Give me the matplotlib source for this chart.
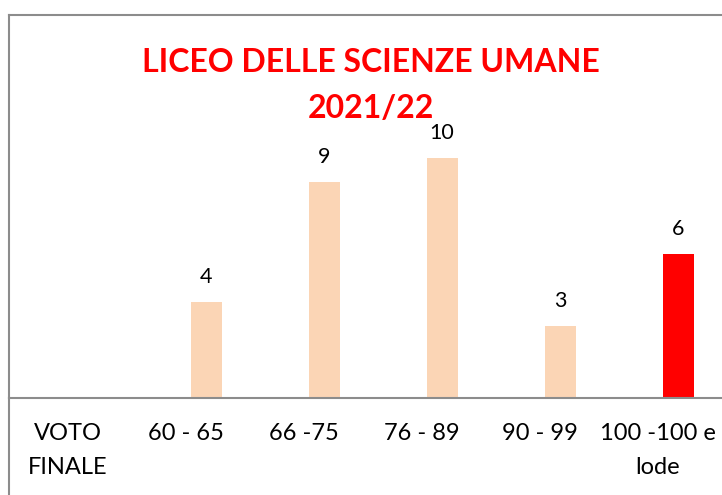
import matplotlib
matplotlib.use("Agg")
import matplotlib.pyplot as plt
from matplotlib.lines import Line2D

categories = ["VOTO\nFINALE", "60 - 65", "66 -75", "76 - 89", "90 - 99", "100 -100 e\nlode"]
values = [None, 4, 9, 10, 3, 6]
colors = [None, "#FBD5B5", "#FBD5B5", "#FBD5B5", "#FBD5B5", "#FF0000"]

plt.rcParams['font.family'] = ['Lato', 'DejaVu Sans']

W, H = 722, 495
fig = plt.figure(figsize=(W / 100, H / 100), dpi=100)
ax = fig.add_axes([9 / W, 97 / H, 713 / W, 383 / H])

offset = 20 / 118.0
width = 31 / 118.0
for i, (v, c) in enumerate(zip(values, colors)):
    if v is None:
        continue
    ax.bar(i + offset, v, width=width, color=c)
    ax.annotate(str(v), (i + offset, v), xytext=(0, 11), textcoords="offset points",
                ha="center", va="bottom", fontsize=15.5, color="#000000")

ax.set_xlim(-0.5, 5.5 + 5 / 118.0)
ax.set_ylim(0, 383 / 24.0)
ax.set_yticks([])
ax.set_xticks(range(len(categories)))
ax.set_xticklabels(categories, fontsize=17, linespacing=1.75, va="top")
ax.tick_params(axis="x", length=0, pad=18)

grey = "#8C8C8C"
for s in ["left", "top", "bottom"]:
    ax.spines[s].set_color(grey)
    ax.spines[s].set_linewidth(1.5)
ax.spines["right"].set_visible(False)

# left border continues below the axis
fig.add_artist(Line2D([9 / W, 9 / W], [0, 97 / H], transform=fig.transFigure,
                      color=grey, linewidth=1.5))

fig.text(371 / W, 1 - 85.5 / H, "LICEO DELLE SCIENZE UMANE\n2021/22", ha="center", va="center",
         fontsize=23, fontweight="bold", color="#FF0000", linespacing=1.72)

fig.savefig("out.png", dpi=100)
